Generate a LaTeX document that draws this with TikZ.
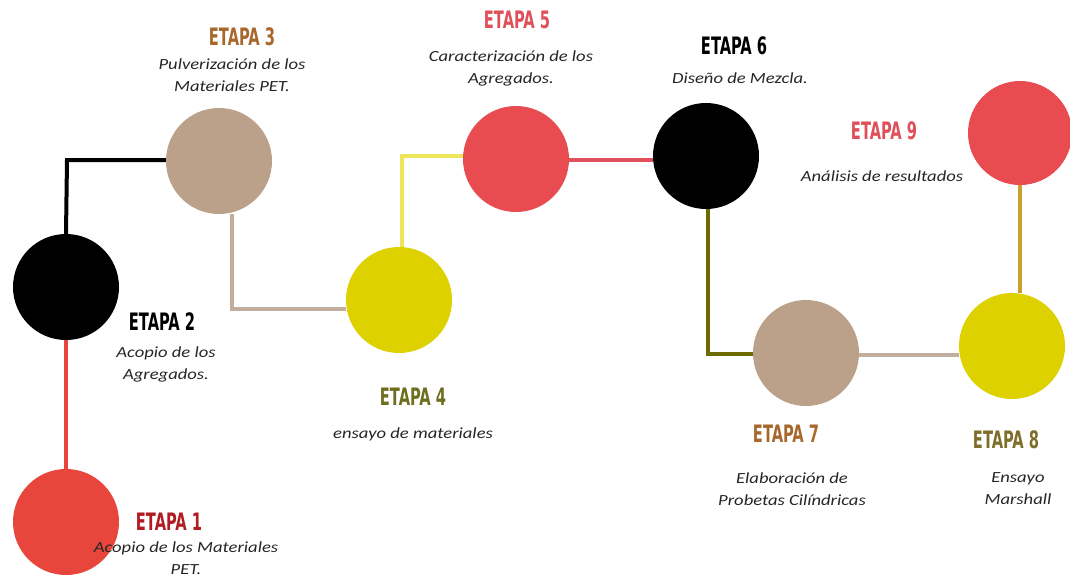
\documentclass[tikz,border=0pt]{standalone}
\usepackage{fontspec}
\usetikzlibrary{backgrounds}
\setmainfont{Carlito}
\newfontfamily\descfont[FakeStretch=1.2]{Carlito}
\newfontfamily\etapafont[FakeStretch=0.68]{DejaVu Sans Condensed}
\definecolor{cred}{HTML}{E8453C}
\definecolor{cred2}{HTML}{E84B50}
\definecolor{ctan}{HTML}{BBA08A}
\definecolor{cyel}{HTML}{DDD200}
\definecolor{ltan}{HTML}{C2AE9E}
\definecolor{lyel}{HTML}{EEE65A}
\definecolor{lred}{HTML}{E0505A}
\definecolor{lolive}{HTML}{6E6A00}
\definecolor{lgold}{HTML}{C9A030}
\definecolor{tdred}{HTML}{B01C22}
\definecolor{tbrown}{HTML}{A8682C}
\definecolor{tolive}{HTML}{6E6E1E}
\definecolor{tolive2}{HTML}{7E6E2A}
\definecolor{tred}{HTML}{E0505A}
\tikzset{
  stage/.style={circle,minimum size=106pt,inner sep=0pt,fill=#1},
  conn/.style={line width=4pt,draw=#1},
  etapa/.style={font=\etapafont\bfseries\fontsize{24}{26}\selectfont,text=#1,inner sep=0pt},
  desc/.style={font=\descfont\itshape\fontsize{15.5}{22}\selectfont,align=center,inner sep=0pt,text=black!85}
}
\begin{document}
\begin{tikzpicture}[x=1pt,y=-1pt]
\useasboundingbox (0,0) rectangle (1070,578);
\coordinate (k23) at (67,160);
\coordinate (k34) at (232,309);
\coordinate (k45) at (402,156);
\coordinate (k67) at (708,354);
% circles
\node[stage=cred] (c1) at (66,522) {};
\node[stage=black] (c2) at (66,287) {};
\node[stage=ctan] (c3) at (219,161) {};
\node[stage=cyel] (c4) at (399,300) {};
\node[stage=cred2] (c5) at (516,159) {};
\node[stage=black] (c6) at (706,156) {};
\node[stage=ctan] (c7) at (806,353) {};
\node[stage=cyel] (c8) at (1012,346) {};
\node[stage=cred2,minimum size=104pt] (c9) at (1020,133) {};
% connectors
\begin{pgfonlayer}{background}
\fill[white] (0,0) rectangle (1070,578);
\draw[conn=cred] (c1.north) -- (c2.south);
\draw[conn=black] (c2.north) -- (k23) -- (k23 -| c3.west);
\draw[conn=ltan] (c3.south -| k34) -- (k34) -- (k34 -| c4.west);
\draw[conn=lyel] (c4.north -| k45) -- (k45) -- (k45 -| c5.west);
\draw[conn=lred] (c5.east |- 0,160) -- (c6.west |- 0,160);
\draw[conn=lolive] (c6.south -| k67) -- (k67) -- (k67 -| c7.west);
\draw[conn=ltan] (c7.east |- 0,355) -- (c8.west |- 0,355);
\draw[conn=lgold] (c9.south -| 1020,0) -- (c8.north -| 1020,0);
\end{pgfonlayer}
% labels
\node[etapa=tdred] (e1) at (169,522) {ETAPA 1};
\node[desc] (d1) at (186,558) {Acopio de los Materiales\\PET.};
\node[etapa=black] (e2) at (162,322) {ETAPA 2};
\node[desc] (d2) at (166,364) {Acopio de los\\Agregados.};
\node[etapa=tbrown] (e3) at (242,37) {ETAPA 3};
\node[desc] (d3) at (232,75) {Pulverización de los\\Materiales PET.};
\node[etapa=tolive] (e4) at (413,397) {ETAPA 4};
\node[desc] (d4) at (413,434) {ensayo de materiales};
\node[etapa=tred] (e5) at (517,20) {ETAPA 5};
\node[desc] (d5) at (511,68) {Caracterización de los\\Agregados.};
\node[etapa=black] (e6) at (734,46) {ETAPA 6};
\node[desc] (d6) at (740,78) {Diseño de Mezcla.};
\node[etapa=tbrown] (e7) at (786,434) {ETAPA 7};
\node[desc] (d7) at (792,489) {Elaboración de\\Probetas Cilíndricas};
\node[etapa=tolive2] (e8) at (1006,440) {ETAPA 8};
\node[desc] (d8) at (1018,489) {Ensayo\\Marshall};
\node[etapa=tred] (e9) at (884,131) {ETAPA 9};
\node[desc] (d9) at (882,176) {Análisis de resultados};
\end{tikzpicture}
\end{document}
